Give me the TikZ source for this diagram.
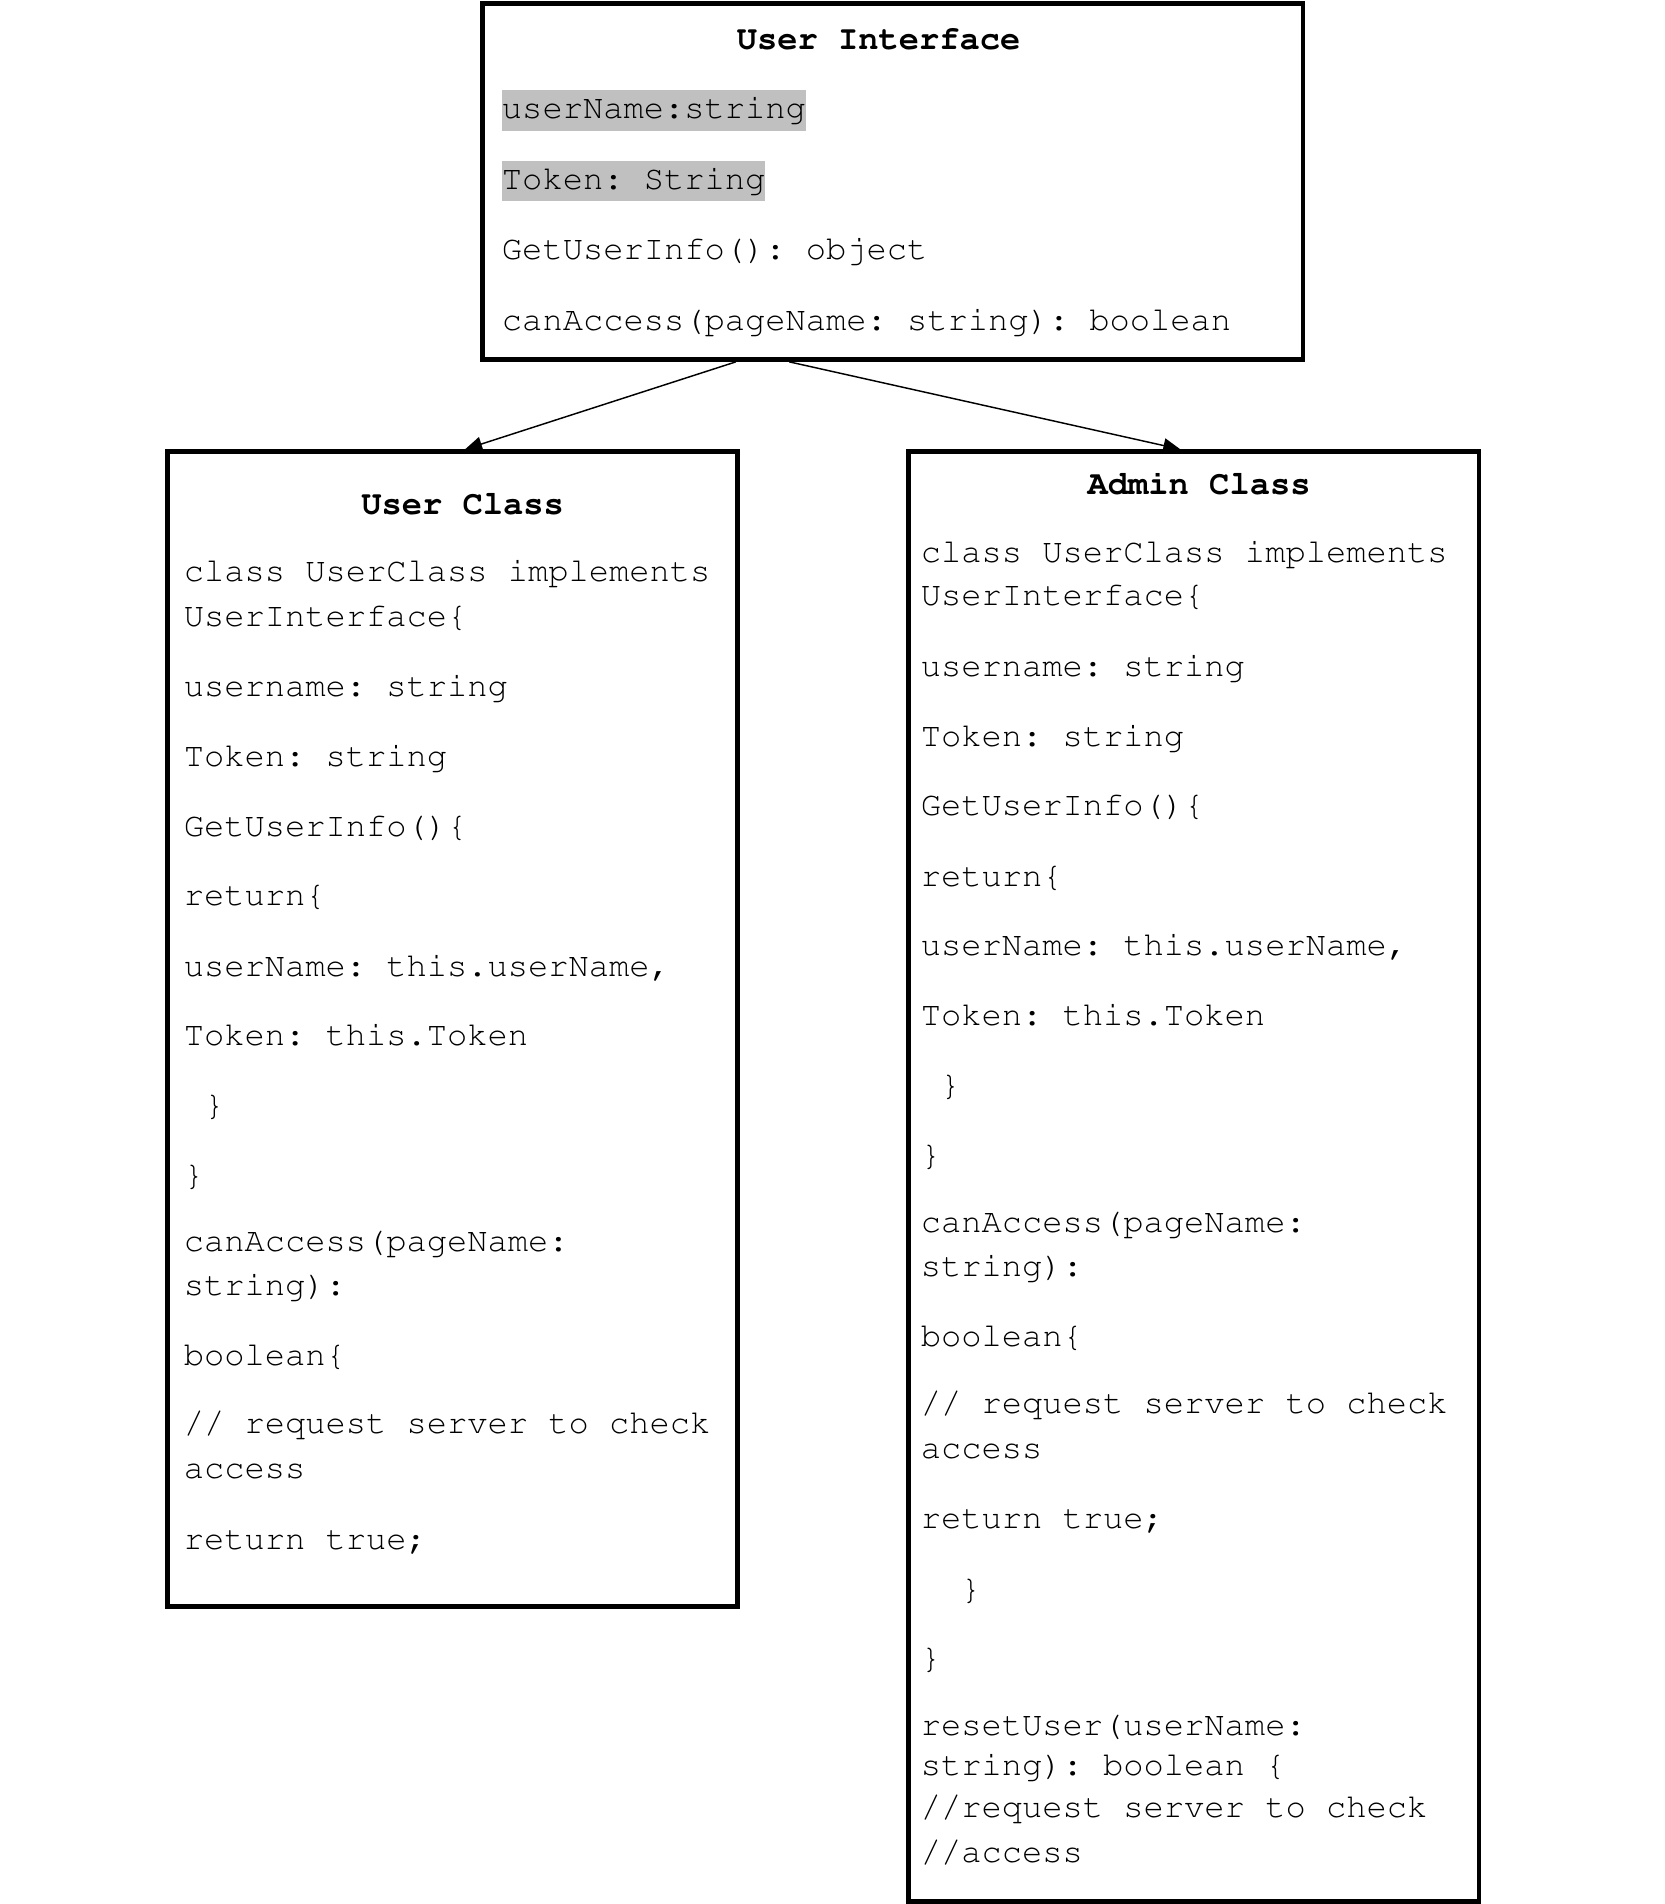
\documentclass[tikz,border=0pt]{standalone}
\usepackage[T1]{fontenc}
\usepackage{courier}
\usetikzlibrary{arrows.meta}
\definecolor{hlgray}{RGB}{192,192,192}
\begin{document}
\frenchspacing
\begin{tikzpicture}[x=0.5pt,y=-0.5pt,
  box/.style={draw=black,line width=2pt,rectangle,inner sep=0pt},
  ln/.style={anchor=west,inner xsep=0pt,inner ysep=2pt,yshift=-1pt,font=\ttfamily\frenchspacing\fontsize{13.9}{16}\selectfont,text height=9.7pt,text depth=2.8pt},
  ttl/.style={ln,anchor=center,font=\ttfamily\frenchspacing\bfseries\fontsize{13.9}{16}\selectfont},
  hl/.style={fill=hlgray},
  conn/.style={line width=0.6pt,-{Triangle[length=7pt,width=6pt]}}]
\useasboundingbox (0,0) rectangle (1371,1568);

% boxes
\node[box,minimum width=338pt,minimum height=146.5pt] (ui) at (735,149.5) {};
\node[box,minimum width=234.5pt,minimum height=475.5pt] (uc) at (372.5,847.5) {};
\node[box,minimum width=235pt,minimum height=597pt] (ac) at (983,969) {};

% User Interface
\node[ttl] (uiT) at (723.5,32) {User Interface};
\node[ln,hl] (ui1) at (413,89) {userName:string};
\node[ln,hl] (ui2) at (413,147) {Token: String};
\node[ln] (ui3) at (413,205) {GetUserInfo(): object};
\node[ln] (ui4) at (413,263) {canAccess(pageName: string): boolean};

% User Class
\node[ttl] (ucT) at (381,415) {User Class};
\node[ln] (uc1) at (151,470) {class UserClass implements};
\node[ln] (uc2) at (151,507) {UserInterface\{};
\node[ln] (uc3) at (151,565) {username: string};
\node[ln] (uc4) at (151,622) {Token: string};
\node[ln] (uc5) at (151,680) {GetUserInfo()\{};
\node[ln] (uc6) at (151,737) {return\{};
\node[ln] (uc7) at (151,795) {userName: this.userName,};
\node[ln] (uc8) at (151,852) {Token: this.Token};
\node[ln] (uc9) at (168,910) {\}};
\node[ln] (uc10) at (151,967) {\}};
\node[ln] (uc11) at (151,1022) {canAccess(pageName:};
\node[ln] (uc12) at (151,1058) {string):};
\node[ln] (uc13) at (151,1116) {boolean\{};
\node[ln] (uc14) at (151,1172) {// request server to check};
\node[ln] (uc15) at (151,1209) {access};
\node[ln] (uc16) at (151,1267) {return true;};

% Admin Class
\node[ttl] (acT) at (987.5,398) {Admin Class};
\node[ln] (ac1) at (758,454) {class UserClass implements};
\node[ln] (ac2) at (758,490) {UserInterface\{};
\node[ln] (ac3) at (758,548) {username: string};
\node[ln] (ac4) at (758,606) {Token: string};
\node[ln] (ac5) at (758,663) {GetUserInfo()\{};
\node[ln] (ac6) at (758,721) {return\{};
\node[ln] (ac7) at (758,778) {userName: this.userName,};
\node[ln] (ac8) at (758,836) {Token: this.Token};
\node[ln] (ac9) at (774,893) {\}};
\node[ln] (ac10) at (758,951) {\}};
\node[ln] (ac11) at (758,1006) {canAccess(pageName:};
\node[ln] (ac12) at (758,1042) {string):};
\node[ln] (ac13) at (758,1100) {boolean\{};
\node[ln] (ac14) at (758,1155) {// request server to check};
\node[ln] (ac15) at (758,1192) {access};
\node[ln] (ac16) at (758,1250) {return true;};
\node[ln] (ac17) at (791,1308) {\}};
\node[ln] (ac18) at (758,1365) {\}};
\node[ln] (ac19) at (758,1420) {resetUser(userName:};
\node[ln] (ac20) at (758,1453) {string): boolean \{};
\node[ln] (ac21) at (758,1488) {//request server to check};
\node[ln] (ac22) at (758,1525) {//access};

% connectors
\draw[conn] ([xshift=105.5pt]ui.south west) -- ([xshift=5.25pt]uc.north);
\draw[conn] ([xshift=127.5pt]ui.south west) -- ([xshift=-5.5pt]ac.north);
\end{tikzpicture}
\end{document}
